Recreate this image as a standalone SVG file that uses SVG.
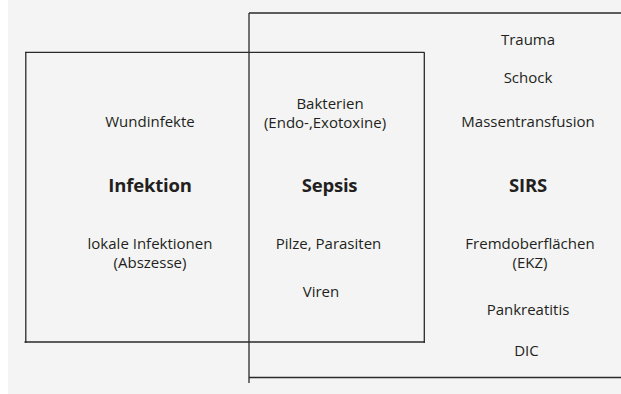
<svg xmlns="http://www.w3.org/2000/svg" width="621" height="394" viewBox="0 0 621 394">
<style>
.bg{fill:#f4f4f4}
.ln{stroke:#2a2a2a;stroke-width:1.3;fill:none}
text{font-family:"Open Sans","Noto Sans","Liberation Sans",sans-serif;fill:#231f20;text-anchor:middle}
.t{font-size:15px}
.b{font-size:18.5px;font-weight:bold;letter-spacing:-0.2px}
</style>
<rect class="bg" x="8" y="0" width="613" height="394"/>
<g id="frames">
<line class="ln" x1="249" y1="13" x2="621" y2="13"/>
<line class="ln" x1="249" y1="13" x2="249" y2="383"/>
<line class="ln" x1="249" y1="377.5" x2="621" y2="377.5"/>
<line class="ln" x1="25" y1="52.3" x2="424.5" y2="52.3"/>
<line class="ln" x1="25.8" y1="52.3" x2="25.8" y2="343"/>
<line class="ln" x1="24.5" y1="342" x2="424.5" y2="342"/>
<line class="ln" x1="424.3" y1="52.3" x2="424.3" y2="343"/>
</g>
<g id="infektion">
<text class="t" x="150" y="127">Wundinfekte</text>
<text class="b" x="150" y="191.5">Infektion</text>
<text class="t" x="150" y="249">lokale Infektionen</text>
<text class="t" x="150" y="268">(Abszesse)</text>
</g>
<g id="sepsis">
<text class="t" x="330" y="108.5">Bakterien</text>
<text class="t" x="325" y="128">(Endo-,Exotoxine)</text>
<text class="b" x="329.5" y="191.5">Sepsis</text>
<text class="t" x="328.5" y="249">Pilze, Parasiten</text>
<text class="t" x="321" y="296.5">Viren</text>
</g>
<g id="sirs">
<text class="t" x="528" y="44.5">Trauma</text>
<text class="t" x="528" y="82.5">Schock</text>
<text class="t" x="528" y="127">Massentransfusion</text>
<text class="b" x="528" y="191.5">SIRS</text>
<text class="t" x="530" y="249">Fremdoberflächen</text>
<text class="t" x="530" y="268">(EKZ)</text>
<text class="t" x="528" y="315">Pankreatitis</text>
<text class="t" x="526.5" y="356">DIC</text>
</g>
</svg>
